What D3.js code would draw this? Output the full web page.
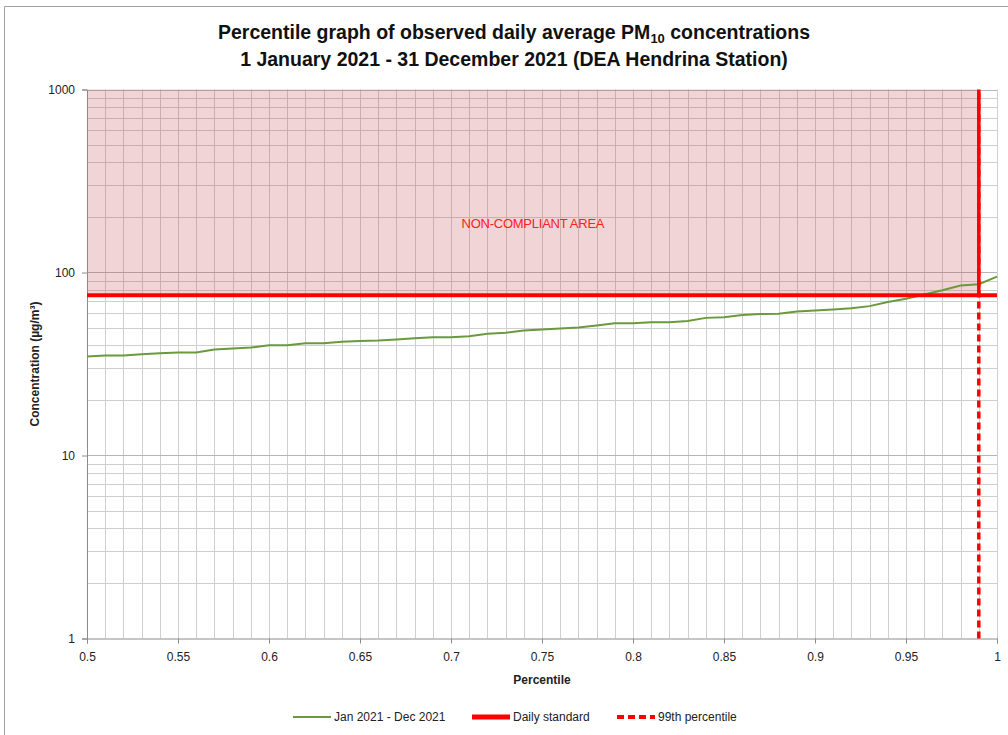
<html>
<head>
    <style>
        body {margin:0; background:white;}
        text {font-family: "Liberation Sans Narrow", "Arial Narrow", "Liberation Sans", sans-serif;}
    </style>
    <script src="https://d3js.org/d3.v7.min.js"></script>
</head>
<body>
    <script>
        //Percentile values for the green line (0.50 to 1.00 in steps of 0.01)
        var percentiles = [0.50,0.51,0.52,0.53,0.54,0.55,0.56,0.57,0.58,0.59,
                           0.60,0.61,0.62,0.63,0.64,0.65,0.66,0.67,0.68,0.69,
                           0.70,0.71,0.72,0.73,0.74,0.75,0.76,0.77,0.78,0.79,
                           0.80,0.81,0.82,0.83,0.84,0.85,0.86,0.87,0.88,0.89,
                           0.90,0.91,0.92,0.93,0.94,0.95,0.96,0.97,0.98,0.99,1.00];
        //Observed daily average PM10 (ug/m3)
        var concentrations = [34.8,35.2,35.2,35.8,36.2,36.6,36.6,37.9,38.4,38.9,
                              40.0,40.0,41.1,41.1,41.8,42.3,42.5,43.1,43.7,44.3,
                              44.3,44.9,46.2,46.8,48.2,48.8,49.4,50.0,51.4,52.8,
                              52.8,53.5,53.5,54.4,56.5,57.0,58.5,59.3,59.5,61.3,
                              62.0,62.8,63.8,65.5,69.0,71.8,75.9,80.0,85.0,86.3,95.0];

        var dailyStandard = 75;
        var percentile99 = 0.99;
        var xTicks = [0.5,0.55,0.6,0.65,0.7,0.75,0.8,0.85,0.9,0.95,1];
        var yTicks = [1,10,100,1000];
        var legendLabels = ["Jan 2021 - Dec 2021","Daily standard","99th percentile"];

        var svg_width = 1008;
        var svg_height = 735;
        var pLeft = 87, pRight = 997, pTop = 89.5, pBottom = 638.5;

        var svg = d3.select("body").append("svg")
            .attr("width", svg_width)
            .attr("height", svg_height);

        //outer frame (left and top edges only visible)
        svg.append("path")
            .attr("d", `M4.5,${svg_height}V6.5H${svg_width}`)
            .attr("fill","none")
            .attr("stroke","#a0a0a0")
            .attr("stroke-width",1);

        var x = d3.scaleLinear().domain([0.5,1]).range([pLeft,pRight]);
        var y = d3.scaleLog().domain([1,1000]).range([pBottom,pTop]);

        //~~~~~~~~~~~~~~~~~~ grid ~~~~~~~~~~~~~~~~~~
        var vgrid = d3.range(51).map(i => 0.5 + i*0.01);
        svg.append("g")
            .selectAll("line")
            .data(vgrid.slice(1))
            .join("line")
            .attr("x1", d => Math.round(x(d))+0.5)
            .attr("x2", d => Math.round(x(d))+0.5)
            .attr("y1", pTop)
            .attr("y2", pBottom)
            .attr("stroke","#cfcfcf")
            .attr("stroke-width",1);

        var hgrid = [];
        [1,10,100].forEach(dec => d3.range(1,10).forEach(m => hgrid.push(dec*m)));
        hgrid.push(1000);
        svg.append("g")
            .selectAll("line")
            .data(hgrid.slice(1))
            .join("line")
            .attr("x1", pLeft)
            .attr("x2", pRight)
            .attr("y1", d => Math.round(y(d))+0.5)
            .attr("y2", d => Math.round(y(d))+0.5)
            .attr("stroke", d => yTicks.includes(d) ? "#b5b5b5" : "#cfcfcf")
            .attr("stroke-width",1);

        //~~~~~~~~~~~~~~~~~~ non-compliant area ~~~~~~~~~~~~~~~~~~
        svg.append("rect")
            .attr("x", x(0.5))
            .attr("y", y(1000))
            .attr("width", x(percentile99) - x(0.5))
            .attr("height", y(dailyStandard) - y(1000))
            .attr("fill","#c0393f")
            .attr("fill-opacity",0.22);

        svg.append("text")
            .attr("x", 533)
            .attr("y", 228)
            .attr("text-anchor","middle")
            .attr("fill","#ff2020")
            .attr("textLength",143)
            .style("font-size","13px")
            .text("NON-COMPLIANT AREA");

        //~~~~~~~~~~~~~~~~~~ axes ~~~~~~~~~~~~~~~~~~
        var xAxis = svg.append("g")
            .attr("transform", `translate(0,${pBottom})`)
            .call(d3.axisBottom(x).tickValues(xTicks).tickSize(5).tickFormat(d => String(+d.toFixed(2))));
        xAxis.select(".domain").attr("stroke","#8c8c8c");
        xAxis.selectAll(".tick line").attr("stroke","#8c8c8c");
        xAxis.selectAll("text").attr("fill","#222").style("font-size","12px").attr("dy","1.2em");

        var yAxis = svg.append("g")
            .attr("transform", `translate(${pLeft},0)`)
            .call(d3.axisLeft(y).tickValues(yTicks).tickSize(5).tickFormat(d3.format("d")));
        yAxis.select(".domain").attr("stroke","#8c8c8c");
        yAxis.selectAll(".tick line").attr("stroke","#8c8c8c");
        yAxis.selectAll("text").attr("fill","#222").style("font-size","12px").attr("x",-12);

        //~~~~~~~~~~~~~~~~~~ series ~~~~~~~~~~~~~~~~~~
        var data = percentiles.map((p,i) => ({p:p, c:concentrations[i]}));
        svg.append("path")
            .datum(data)
            .attr("fill","none")
            .attr("stroke","#6a9a3c")
            .attr("stroke-width",2)
            .attr("d", d3.line().x(d => x(d.p)).y(d => y(d.c)));

        //daily standard
        svg.append("line")
            .attr("x1", pLeft).attr("x2", pRight)
            .attr("y1", y(dailyStandard)).attr("y2", y(dailyStandard))
            .attr("stroke","#ff0000")
            .attr("stroke-width",4);

        //99th percentile
        svg.append("line")
            .attr("x1", x(percentile99)).attr("x2", x(percentile99))
            .attr("y1", y(1)).attr("y2", y(1000))
            .attr("stroke","#ff0000")
            .attr("stroke-width",3.5)
            .attr("stroke-dasharray","7,4");
        svg.append("line")
            .attr("x1", x(percentile99)).attr("x2", x(percentile99))
            .attr("y1", y(dailyStandard)).attr("y2", y(1000))
            .attr("stroke","#ff0000")
            .attr("stroke-width",3.5);

        //~~~~~~~~~~~~~~~~~~ titles ~~~~~~~~~~~~~~~~~~
        var title = svg.append("text")
            .attr("x", 514).attr("y", 39)
            .attr("text-anchor","middle")
            .style("font-size","19.5px").style("font-weight","bold")
            .attr("fill","#111");
        title.append("tspan").text("Percentile graph of observed daily average PM");
        title.append("tspan").attr("dy",4).style("font-size","13px").text("10");
        title.append("tspan").attr("dy",-4).text(" concentrations");

        svg.append("text")
            .attr("x", 514).attr("y", 66)
            .attr("text-anchor","middle")
            .style("font-size","19.5px").style("font-weight","bold")
            .attr("fill","#111")
            .text("1 January 2021 - 31 December 2021 (DEA Hendrina Station)");

        svg.append("text")
            .attr("transform", `translate(39,${(pTop+pBottom)/2}) rotate(-90)`)
            .attr("text-anchor","middle")
            .style("font-size","12px").style("font-weight","bold")
            .attr("fill","#222")
            .text("Concentration (µg/m³)");

        svg.append("text")
            .attr("x", (pLeft+pRight)/2).attr("y", 684)
            .attr("text-anchor","middle")
            .style("font-size","12px").style("font-weight","bold")
            .attr("fill","#222")
            .text("Percentile");

        //~~~~~~~~~~~~~~~~~~ legend ~~~~~~~~~~~~~~~~~~
        var legendX = [293, 472, 617];
        var legendStyle = [
            {stroke:"#6a9a3c", width:2, dash:null},
            {stroke:"#ff0000", width:5, dash:null},
            {stroke:"#ff0000", width:4, dash:"7,4"}
        ];
        var legend = svg.append("g")
            .selectAll("g")
            .data(legendLabels)
            .join("g")
            .attr("transform", (d,i) => `translate(${legendX[i]},717)`);
        legend.append("line")
            .attr("x1",0).attr("x2",38)
            .attr("stroke",(d,i) => legendStyle[i].stroke)
            .attr("stroke-width",(d,i) => legendStyle[i].width)
            .attr("stroke-dasharray",(d,i) => legendStyle[i].dash);
        legend.append("text")
            .attr("x",41).attr("dy","0.35em")
            .style("font-size","12px")
            .attr("fill","#222")
            .text(d => d);
    </script>
</body>
</html>
